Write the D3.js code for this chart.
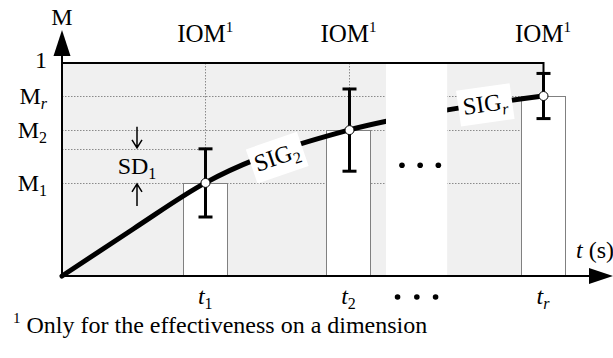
<!DOCTYPE html>
<html>
<head>
<meta charset="utf-8">
<script src="https://cdn.jsdelivr.net/npm/d3@7"></script>
<style>
  html, body { margin: 0; padding: 0; background: #fff; }
  svg { display: block; font-family: "Liberation Serif", "Times New Roman", serif; }
</style>
</head>
<body>
<svg id="chart" width="613" height="358"></svg>
<script>
// Measurement points: time position, mean value and standard deviation
const tSubs   = ["1", "2", "r"];
const tValues = [26, 52, 87.3];
const means   = [0.437, 0.685, 0.845];
const sds     = [0.16, 0.193, 0.106];

// Points the SIG curve passes through (time, value)
const curveT = [0, 13, 26, 52, 70, 87.3];
const curveM = [0, 0.222, 0.437, 0.685, 0.78, 0.845];

// Y-axis labels: value, main text, subscript
const yLabelValues = [1, 0.845, 0.685, 0.437];
const yLabelMain   = ["1", "M", "M", "M"];
const yLabelSub    = ["", "r", "2", "1"];

// Interval left out of the drawing (shown as an ellipsis)
const gapRange = [58.8, 69.9];

// SIG segment labels: time, value, subscript, rotation
const sigT   = [39, 76.8];
const sigM   = [0.56, 0.808];
const sigSub = ["2", "r"];
const sigRot = [-19, -8];

const svg = d3.select("#chart");
const x = d3.scaleLinear().domain([0, 100]).range([62, 613]);
const y = d3.scaleLinear().domain([0, 1]).range([276, 63]);
const barW = x(8) - x(0);
const pts = tValues.map((t, i) => ({ t, m: means[i], sd: sds[i], sub: tSubs[i] }));
const last = pts[pts.length - 1];

// light grey background of the measured region
svg.append("rect")
  .attr("x", x(0)).attr("y", y(1))
  .attr("width", x(last.t) - x(0)).attr("height", y(0) - y(1))
  .attr("fill", "#f0f0f0");

// dotted guide lines
const grid = svg.append("g").attr("stroke", "#8a8a8a").attr("stroke-width", 1)
  .attr("stroke-dasharray", "1.5,1.5");
[pts[0].m, pts[1].m, last.m].forEach(v => {
  grid.append("line").attr("x1", x(0)).attr("x2", x(last.t))
    .attr("y1", Math.round(y(v)) + 0.5).attr("y2", Math.round(y(v)) + 0.5);
});
grid.append("line").attr("x1", x(0)).attr("x2", x(pts[0].t))
  .attr("y1", Math.round(y(pts[0].m + pts[0].sd)) + 0.5)
  .attr("y2", Math.round(y(pts[0].m + pts[0].sd)) + 0.5);
pts.slice(0, 2).forEach(p => {
  grid.append("line").attr("x1", Math.round(x(p.t)) + 0.5).attr("x2", Math.round(x(p.t)) + 0.5)
    .attr("y1", y(1)).attr("y2", y(0));
});

// IOM bars
svg.append("g").selectAll("rect").data(pts).join("rect")
  .attr("x", d => Math.round(x(d.t) - barW / 2) + 0.5)
  .attr("y", d => Math.round(y(d.m)) + 0.5)
  .attr("width", Math.round(barW))
  .attr("height", d => y(0) - Math.round(y(d.m)) - 0.5)
  .attr("fill", "#fff").attr("stroke", "#808080").attr("stroke-width", 1);

// SIG curve
const line = d3.line().x(d => x(d[0])).y(d => y(d[1])).curve(d3.curveMonotoneX);
svg.append("path")
  .datum(curveT.map((t, i) => [t, curveM[i]]))
  .attr("d", line)
  .attr("fill", "none").attr("stroke", "#000").attr("stroke-width", 5)
  .attr("stroke-linecap", "round");

// omitted interval
svg.append("rect")
  .attr("x", x(gapRange[0])).attr("y", y(1) + 1)
  .attr("width", x(gapRange[1]) - x(gapRange[0])).attr("height", y(0) - y(1) - 2)
  .attr("fill", "#fff");
const dotsX = [x(61.7), x(65), x(68.3)];
svg.append("g").selectAll("circle").data(dotsX).join("circle")
  .attr("cx", d => d).attr("cy", y(0.52)).attr("r", 2.8).attr("fill", "#000");

// SIG labels on white patches
sigT.forEach((t, i) => {
  const g = svg.append("g")
    .attr("transform", `translate(${x(t)},${y(sigM[i])}) rotate(${sigRot[i]})`);
  g.append("rect").attr("x", -27).attr("y", -17).attr("width", 54).attr("height", 36)
    .attr("fill", "#fff");
  const tx = g.append("text").attr("text-anchor", "middle").attr("y", 8)
    .attr("font-size", 24);
  tx.append("tspan").text("SIG");
  tx.append("tspan").attr("font-size", 16).attr("dy", 5)
    .attr("font-style", sigSub[i] === "r" ? "italic" : "normal").text(sigSub[i]);
});

// error bars
const eb = svg.append("g").attr("stroke", "#000").attr("stroke-width", 3);
pts.forEach(p => {
  const cx = Math.round(x(p.t)) + 0.5;
  eb.append("line").attr("x1", cx).attr("x2", cx).attr("y1", y(p.m + p.sd)).attr("y2", y(p.m - p.sd));
  [p.m + p.sd, p.m - p.sd].forEach(v => {
    eb.append("line").attr("x1", cx - 7).attr("x2", cx + 7).attr("y1", y(v)).attr("y2", y(v));
  });
});
svg.append("g").selectAll("circle").data(pts).join("circle")
  .attr("cx", d => Math.round(x(d.t)) + 0.5).attr("cy", d => y(d.m)).attr("r", 4.5)
  .attr("fill", "#fff").attr("stroke", "#000").attr("stroke-width", 1);

// upper border at value 1
svg.append("path")
  .attr("d", `M${x(0)},${y(1)}H${Math.round(x(last.t)) + 0.5}V${y(last.m + last.sd)}`)
  .attr("fill", "none").attr("stroke", "#000").attr("stroke-width", 2);

// axes with arrowheads
svg.append("line").attr("x1", x(0)).attr("x2", x(0)).attr("y1", y(0)).attr("y2", 50)
  .attr("stroke", "#000").attr("stroke-width", 2);
svg.append("path").attr("d", `M${x(0)},30L${x(0) + 8.5},56L${x(0) - 8.5},56Z`).attr("fill", "#000");
svg.append("line").attr("x1", x(0)).attr("x2", 595).attr("y1", y(0)).attr("y2", y(0))
  .attr("stroke", "#000").attr("stroke-width", 2);
svg.append("path").attr("d", `M613,${y(0)}L589,${y(0) - 8}L589,${y(0) + 8}Z`).attr("fill", "#000");

// axis titles
svg.append("text").attr("x", x(0)).attr("y", 25).attr("text-anchor", "middle")
  .attr("font-size", 24).text("M");
const tt = svg.append("text").attr("x", 576).attr("y", 258).attr("font-size", 24);
tt.append("tspan").attr("font-style", "italic").text("t");
tt.append("tspan").text(" (s)");

// y labels
yLabelValues.forEach((v, i) => {
  const tx = svg.append("text").attr("x", 47).attr("y", y(v) + (v === 1 ? 5 : 8))
    .attr("text-anchor", "end").attr("font-size", 24);
  tx.append("tspan").text(yLabelMain[i]);
  if (yLabelSub[i]) {
    tx.append("tspan").attr("font-size", 16).attr("dy", 5)
      .attr("font-style", yLabelSub[i] === "r" ? "italic" : "normal").text(yLabelSub[i]);
  }
});

// x labels
pts.forEach(p => {
  const tx = svg.append("text").attr("x", x(p.t)).attr("y", 304)
    .attr("text-anchor", "middle").attr("font-size", 24);
  tx.append("tspan").attr("font-style", "italic").text("t");
  tx.append("tspan").attr("font-size", 16).attr("dy", 5)
    .attr("font-style", p.sub === "r" ? "italic" : "normal").text(p.sub);
});
const bottomDots = [x(60.9), x(64.4), x(67.8)];
svg.append("g").selectAll("circle").data(bottomDots).join("circle")
  .attr("cx", d => d).attr("cy", 297).attr("r", 2.8).attr("fill", "#000");

// IOM labels above each measurement
pts.forEach(p => {
  const tx = svg.append("text").attr("x", x(p.t)).attr("y", 42)
    .attr("text-anchor", "middle").attr("font-size", 25);
  tx.append("tspan").text("IOM");
  tx.append("tspan").attr("font-size", 15).attr("dy", -10).text("1");
});

// SD1 annotation with arrows
const sdX = 137;
svg.append("text").attr("x", sdX).attr("y", 174).attr("text-anchor", "middle")
  .attr("font-size", 24)
  .call(t => { t.append("tspan").text("SD"); t.append("tspan").attr("font-size", 16).attr("dy", 5).text("1"); });
const arr = svg.append("g").attr("stroke", "#000").attr("stroke-width", 1.5).attr("fill", "none");
const ySd = y(pts[0].m + pts[0].sd), yM1 = y(pts[0].m);
arr.append("path").attr("d", `M${sdX},${ySd - 22}V${ySd - 1}M${sdX - 5},${ySd - 9}L${sdX},${ySd - 1}L${sdX + 5},${ySd - 9}`);
arr.append("path").attr("d", `M${sdX},${yM1 + 23}V${yM1 + 1}M${sdX - 5},${yM1 + 9}L${sdX},${yM1 + 1}L${sdX + 5},${yM1 + 9}`);

// footnote
const fn = svg.append("text").attr("x", 13).attr("y", 333).attr("font-size", 24);
fn.append("tspan").attr("font-size", 15).attr("dy", -10).text("1");
fn.append("tspan").attr("dy", 10).text(" Only for the effectiveness on a dimension");
</script>
</body>
</html>
